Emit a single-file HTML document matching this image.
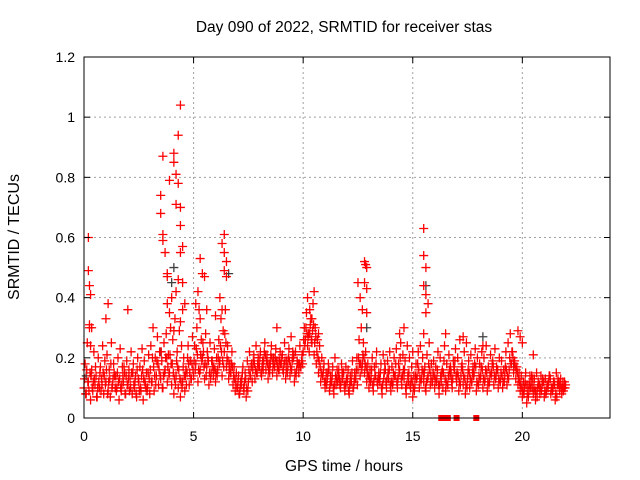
<!DOCTYPE html>
<html><head><meta charset="utf-8"><style>
body{margin:0;background:#fff}
svg{display:block;font-family:"Liberation Sans",sans-serif}
</style></head><body>
<svg id="chart" width="640" height="480">
<rect width="640" height="480" fill="#fff"/>
<text x="344" y="32" font-size="15.5" text-anchor="middle" fill="#000">Day 090 of 2022, SRMTID for receiver stas</text>
<text transform="translate(19,237) rotate(-90)" font-size="16" text-anchor="middle">SRMTID / TECUs</text>
<text x="344" y="471" font-size="15.5" text-anchor="middle">GPS time / hours</text>
<g id="grid"></g><g id="marks"></g><g id="axes"></g>
</svg>
<script>
const seriesA=[.10,.08,.12,.06,.09,.11,.07,.10,.13,.08,.12,.09,.07,.11,.14,.10,.06,.09,.12,.08,.11,.13,.08,.10,.07,.12,.09,.06,.11,.10,.08,.12,.09,.14,.11,.13,.10,.16,.12,.15,.11,.08,.14,.10,.07,.12,.09,.15,.11,.13,.14,.18,.12,.16,.20,.13,.17,.11,.15,.14,.12,.16,.19,.14,.22,.17,.13,.15,.11,.09,.10,.08,.13,.09,.07,.12,.14,.16,.13,.15,.17,.14,.19,.16,.13,.18,.15,.17,.14,.16,.18,.15,.13,.17,.14,.19,.12,.16,.15,.17,.22,.26,.24,.28,.25,.21,.18,.15,.12,.14,.10,.13,.09,.12,.08,.11,.14,.10,.13,.09,.11,.08,.12,.10,.13,.16,.14,.18,.15,.12,.10,.13,.09,.14,.11,.12,.08,.15,.10,.13,.09,.12,.14,.10,.16,.11,.13,.08,.12,.10,.07,.11,.14,.10,.13,.12,.09,.14,.11,.12,.10,.13,.08,.12,.15,.09,.11,.14,.10,.16,.12,.09,.14,.11,.08,.13,.10,.12,.15,.09,.11,.14,.10,.13,.09,.12,.15,.11,.14,.10,.12,.10,.14,.11,.16,.18,.15,.13,.11,.09,.07,.10,.05,.09,.12,.08,.06,.10,.08,.11,.07,.09,.12,.08,.10,.06,.11,.09,.08,.10];
const seriesB=[.18,.25,.30,.16,.22,.14,.20,.17,.24,.19,.21,.16,.25,.18,.14,.20,.23,.17,.15,.19,.16,.22,.18,.14,.20,.17,.23,.19,.15,.21,.24,.30,.20,.27,.22,.19,.25,.28,.21,.30,.26,.33,.22,.29,.24,.20,.16,.24,.19,.27,.24,.30,.36,.26,.22,.28,.20,.25,.19,.23,.20,.26,.33,.29,.36,.24,.18,.22,.17,.15,.14,.12,.17,.15,.19,.22,.18,.21,.24,.20,.22,.19,.25,.21,.18,.24,.20,.23,.19,.22,.21,.25,.19,.23,.27,.20,.22,.18,.24,.21,.30,.35,.28,.33,.38,.30,.26,.24,.20,.18,.15,.18,.14,.17,.20,.16,.13,.18,.15,.17,.16,.14,.19,.15,.20,.26,.30,.25,.22,.18,.16,.20,.17,.22,.15,.18,.21,.16,.19,.22,.17,.20,.23,.18,.25,.21,.19,.24,.20,.17,.14,.18,.22,.24,.20,.17,.21,.25,.18,.19,.17,.22,.20,.16,.24,.18,.21,.15,.19,.23,.20,.26,.18,.22,.25,.19,.21,.17,.23,.20,.18,.22,.20,.24,.17,.21,.19,.23,.16,.20,.19,.16,.22,.25,.28,.22,.19,.17,.15,.14,.12,.15,.11,.14,.10,.13,.15,.11,.14,.12,.13,.11,.14,.10,.12,.15,.11,.13,.12,.10];
const seriesC=[.13,.16,.09,.14,.12,.17,.10,.15,.11,.14,.16,.12,.18,.13,.10,.15,.13,.11,.17,.14,.13,.10,.15,.12,.16,.09,.14,.13,.10,.15,.16,.20,.14,.19,.16,.22,.14,.20,.17,.21,.18,.13,.19,.16,.12,.17,.14,.20,.15,.18,.19,.23,.16,.21,.25,.18,.22,.15,.19,.17,.15,.20,.24,.19,.28,.20,.16,.18,.14,.12,.12,.10,.15,.12,.10,.16,.17,.19,.16,.18,.20,.17,.22,.19,.16,.21,.18,.20,.17,.19,.20,.18,.16,.20,.17,.22,.15,.19,.18,.19,.26,.30,.27,.31,.29,.25,.22,.19,.15,.16,.12,.15,.11,.14,.11,.13,.16,.12,.15,.11,.13,.11,.15,.12,.16,.20,.18,.21,.18,.15,.13,.16,.12,.18,.13,.15,.11,.18,.13,.16,.12,.15,.18,.13,.20,.14,.16,.11,.15,.13,.10,.14,.18,.13,.16,.15,.12,.18,.14,.15,.13,.16,.11,.15,.19,.12,.14,.17,.13,.19,.15,.12,.17,.14,.11,.16,.13,.15,.18,.12,.14,.17,.13,.16,.12,.15,.18,.14,.17,.13,.15,.12,.17,.14,.20,.22,.18,.16,.13,.11,.09,.12,.08,.11,.14,.10,.09,.12,.10,.13,.09,.11,.14,.10,.12,.08,.13,.11,.10,.12];
const seriesD=[.08,.12,.15,.10,.13,.07,.12,.09,.15,.11,.08,.13,.10,.15,.09,.12,.10,.14,.08,.11,.09,.15,.11,.08,.13,.10,.16,.12,.09,.13,.12,.17,.11,.18,.14,.10,.15,.20,.14,.18,.15,.11,.17,.13,.10,.14,.11,.18,.13,.16,.16,.21,.15,.19,.17,.14,.19,.13,.17,.16,.14,.18,.22,.17,.25,.19,.15,.17,.13,.10,.08,.11,.10,.13,.09,.14,.12,.18,.15,.17,.15,.16,.21,.18,.15,.20,.17,.19,.16,.18,.16,.19,.15,.19,.16,.21,.14,.18,.17,.18,.24,.28,.22,.26,.31,.27,.20,.17,.14,.12,.11,.16,.12,.10,.14,.12,.11,.15,.11,.13,.09,.12,.10,.13,.11,.18,.16,.20,.17,.14,.12,.11,.14,.12,.13,.10,.13,.12,.15,.11,.11,.14,.12,.15,.13,.16,.10,.14,.11,.12,.09,.13,.16,.12,.15,.10,.13,.16,.12,.14,.12,.11,.14,.10,.13,.11,.16,.12,.17,.14,.14,.11,.16,.13,.10,.15,.12,.14,.17,.11,.13,.16,.12,.15,.11,.14,.17,.13,.16,.12,.14,.12,.16,.13,.18,.20,.17,.15,.12,.10,.08,.11,.07,.10,.13,.09,.07,.11,.09,.12,.08,.10,.13,.09,.11,.07,.12,.10,.09,.11];
const peakTimes=[0.2,0.2,0.25,0.3,0.25,0.35,0.3,1.1,1.0,2.0,3.6,3.5,3.5,3.6,3.6,3.7,3.8,3.8,3.9,4.1,4.1,4.2,4.2,4.3,4.4,4.3,4.4,4.4,4.5,4.4,4.3,4.2,4.5,4.0,3.8,4.5,4.6,4.4,4.1,3.9,5.3,5.4,5.5,5.2,5.1,5.6,5.3,6.3,6.4,6.4,6.5,6.4,6.5,6.2,6.3,6.0,8.8,10.2,10.5,10.3,10.4,10.7,12.5,12.6,12.8,12.85,12.9,12.8,12.9,12.7,12.9,15.5,15.5,15.6,15.5,15.6,15.7,15.6,15.5,14.6,14.4,15.0,16.5,17.3,18.2,19.8,19.9,20.0,20.5];
const peakValues=[.60,.49,.44,.41,.31,.30,.24,.38,.33,.36,.87,.74,.68,.61,.59,.55,.48,.47,.79,.88,.85,.81,.71,.94,1.04,.78,.70,.64,.57,.55,.46,.42,.45,.40,.38,.36,.38,.32,.29,.35,.53,.48,.47,.42,.38,.36,.33,.58,.61,.55,.52,.49,.47,.40,.36,.34,.30,.40,.42,.36,.33,.28,.45,.40,.52,.51,.50,.45,.43,.36,.35,.63,.54,.50,.44,.41,.38,.35,.28,.30,.28,.22,.28,.27,.24,.29,.27,.25,.21];
const grayTimes=[4.1,4.0,6.6,15.6,3.5,18.2,0.1,12.9,19.6];
const grayValues=[.50,.45,.48,.44,.22,.27,.14,.30,.18];
const zeroTimes=[16.3,16.45,16.6,17.0,17.9];
const zeroValues=[0,0,0,0,0];
const xTicks=[0,5,10,15,20];
const yTicks=[0,0.2,0.4,0.6,0.8,1,1.2];
const yTickLabels=["0","0.2","0.4","0.6","0.8","1","1.2"];

const L=84,R=610,T=57,B=418,XMAX=24,YMAX=1.2;
const xs=t=>L+(R-L)*t/XMAX, ys=v=>B-(B-T)*v/YMAX;
const NS="http://www.w3.org/2000/svg";
function mk(tag,attrs,parent){const e=document.createElementNS(NS,tag);for(const k in attrs)e.setAttribute(k,attrs[k]);parent.appendChild(e);return e;}
const grid=document.getElementById('grid'),marks=document.getElementById('marks'),axes=document.getElementById('axes');
yTicks.forEach((v,i)=>{
  if(v>0&&v<YMAX){const g=mk('line',{x1:L,x2:R,y1:ys(v),y2:ys(v),stroke:'#a0a0a0','stroke-dasharray':'2,3','stroke-width':1},grid);
  
  }
  const tk=mk('line',{x1:L,x2:L+6,y1:ys(v),y2:ys(v),stroke:'#000'},axes);
  
  
  const tk2=mk('line',{x1:R,x2:R-6,y1:ys(v),y2:ys(v),stroke:'#000'},axes);
  
  
  const t=mk('text',{x:L-9,y:ys(v)+5,'font-size':14,'text-anchor':'end'},axes);t.textContent=yTickLabels[i];
  
  
});
xTicks.forEach(v=>{
  if(v>0){const g=mk('line',{x1:xs(v),x2:xs(v),y1:T,y2:B,stroke:'#a0a0a0','stroke-dasharray':'2,3','stroke-width':1},grid);
  
  }
  const tk=mk('line',{x1:xs(v),x2:xs(v),y1:B,y2:B-6,stroke:'#000'},axes);
  
  
  const tk2=mk('line',{x1:xs(v),x2:xs(v),y1:T,y2:T+6,stroke:'#000'},axes);
  
  
  const t=mk('text',{x:xs(v),y:B+23,'font-size':14,'text-anchor':'middle'},axes);t.textContent=String(v);
  
  
});
const frame=mk('rect',{x:L,y:T,width:R-L,height:B-T,fill:'none',stroke:'#000','stroke-width':1},axes);


function plus(t,v,color,name){
  const x=xs(t),y=ys(v);
  const p=mk('path',{d:`M${x-4.5},${y}h9M${x},${y-4.5}v9`,stroke:color,'stroke-width':1.3,fill:'none'},marks);
  
  
}
grayTimes.forEach((t,i)=>plus(t,grayValues[i],'#404040','gray-point'));
seriesA.forEach((v,i)=>plus(i*0.1,v,'#ff0000','srmtid-point'));
seriesC.forEach((v,i)=>plus(i*0.1+0.025,v,'#ff0000','srmtid-point'));
seriesB.forEach((v,i)=>plus(i*0.1+0.05,v,'#ff0000','srmtid-point'));
seriesD.forEach((v,i)=>plus(i*0.1+0.075,v,'#ff0000','srmtid-point'));
peakTimes.forEach((t,i)=>plus(t,peakValues[i],'#ff0000','srmtid-peak-point'));
zeroTimes.forEach((t,i)=>{
  const r=mk('rect',{x:xs(t)-3,y:ys(zeroValues[i])-3,width:6,height:6,fill:'#ff0000'},marks);
  
  
});
</script>
</body></html>
